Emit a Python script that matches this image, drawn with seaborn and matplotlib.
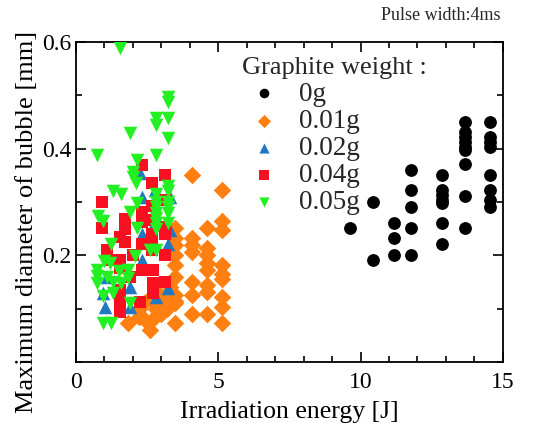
import matplotlib
matplotlib.use("Agg")
import matplotlib.pyplot as plt
import seaborn as sns
import pandas as pd
from matplotlib.ticker import MultipleLocator

# ---- data ----
labels = ["0g", "0.01g", "0.02g", "0.04g", "0.05g"]

x_0g = [9.62, 10.43, 10.43, 11.19, 11.19, 11.19,
        11.79, 11.79, 11.79, 11.79, 11.79,
        12.85, 12.85, 12.85, 12.85, 12.85, 12.85, 12.85,
        13.67, 13.67, 13.67, 13.67, 13.67, 13.67, 13.67, 13.67, 13.67,
        14.55, 14.55, 14.55, 14.55, 14.55, 14.55, 14.55, 14.55]
y_0g = [0.252, 0.301, 0.191, 0.261, 0.232, 0.201,
        0.360, 0.322, 0.290, 0.252, 0.201,
        0.351, 0.323, 0.313, 0.304, 0.298, 0.260, 0.221,
        0.451, 0.432, 0.423, 0.413, 0.404, 0.398, 0.372, 0.311, 0.252,
        0.451, 0.423, 0.413, 0.404, 0.351, 0.322, 0.304, 0.290]

x_001 = [4.07, 5.12, 5.12, 5.12, 4.59, 3.48, 3.48, 4.07, 4.07, 4.07, 4.59, 4.59,
         4.59, 4.59, 5.12, 5.12, 5.12, 3.48, 4.07, 4.59, 4.59, 5.12, 5.12, 4.07,
         4.07, 4.59, 3.48, 3.48, 5.12, 3.48, 2.60, 1.84, 3.48,
         2.20, 2.40, 2.60, 2.80, 3.00, 2.40, 2.70, 3.00, 3.20, 2.20, 2.90, 3.30,
         3.48, 3.48, 3.48]
y_001 = [0.351, 0.322, 0.264, 0.248, 0.251, 0.251, 0.232, 0.232, 0.219, 0.207, 0.214, 0.201,
         0.185, 0.173, 0.182, 0.166, 0.155, 0.182, 0.151, 0.144, 0.132, 0.122, 0.104, 0.126,
         0.091, 0.091, 0.126, 0.110, 0.073, 0.074, 0.061, 0.073, 0.115,
         0.100, 0.110, 0.120, 0.100, 0.090, 0.080, 0.080, 0.120, 0.100, 0.085, 0.130, 0.140,
         0.160, 0.200, 0.220]

x_002 = [1.02, 2.25, 3.24, 3.24, 2.83, 1.90, 2.31, 2.78, 2.31, 2.78, 3.30, 3.30,
         1.08, 1.60, 2.31, 1.90, 0.96]
y_002 = [0.104, 0.354, 0.222, 0.138, 0.122, 0.104, 0.241, 0.263, 0.310, 0.322, 0.310, 0.248,
         0.160, 0.185, 0.191, 0.141, 0.129]

x_004 = [2.31, 3.13, 2.66, 0.90, 0.90, 1.72, 1.55, 1.72, 1.72, 2.31, 2.31, 2.66,
         2.66, 3.13, 3.13, 3.13, 2.31, 2.66, 2.66, 2.66, 3.13, 1.08, 1.19, 1.55,
         1.55, 2.31, 2.72, 2.72, 2.72, 3.13, 2.25, 1.55, 1.55, 1.55, 2.00, 1.90]
y_004 = [0.370, 0.351, 0.335, 0.301, 0.251, 0.269, 0.235, 0.250, 0.225, 0.282, 0.263, 0.292,
         0.267, 0.304, 0.254, 0.241, 0.222, 0.241, 0.222, 0.210, 0.201, 0.210, 0.191, 0.191,
         0.176, 0.173, 0.173, 0.148, 0.129, 0.151, 0.113, 0.135, 0.116, 0.094, 0.200, 0.160]

x_005 = [1.55, 3.24, 3.24, 3.24, 2.83, 2.83, 1.90, 3.24, 0.73, 2.83, 2.13, 2.00,
         2.00, 2.10, 1.31, 1.60, 2.13, 1.90, 2.83, 2.83, 2.83, 2.83, 2.83, 2.83,
         2.83, 3.24, 3.24, 3.24, 3.24, 3.24, 3.24, 0.78, 0.96, 2.13, 1.25, 2.83,
         2.06, 1.00, 1.20, 0.73, 0.73, 0.73, 1.84, 1.84, 1.31, 1.31, 1.60, 0.96,
         1.90, 0.96, 1.25, 2.60, 1.10, 1.50]
y_005 = [0.589, 0.498, 0.488, 0.457, 0.457, 0.445, 0.429, 0.420, 0.388, 0.388, 0.379, 0.357,
         0.348, 0.335, 0.320, 0.316, 0.298, 0.282, 0.316, 0.300, 0.290, 0.280, 0.270, 0.260,
         0.250, 0.330, 0.320, 0.300, 0.290, 0.280, 0.260, 0.273, 0.264, 0.251, 0.222, 0.210,
         0.198, 0.190, 0.185, 0.173, 0.161, 0.148, 0.173, 0.157, 0.150, 0.129, 0.148, 0.123,
         0.110, 0.073, 0.073, 0.210, 0.160, 0.170]

# drawing order: black, orange, blue, red, green
series = [("0g", x_0g, y_0g), ("0.01g", x_001, y_001), ("0.02g", x_002, y_002),
          ("0.04g", x_004, y_004), ("0.05g", x_005, y_005)]
rows = []
for name, xs, ys in series:
    for xv, yv in zip(xs, ys):
        rows.append({"energy": xv, "diameter": yv, "weight": name})
df = pd.DataFrame(rows)

palette = {"0g": "#000000", "0.01g": "#FF8010", "0.02g": "#1F78C0",
           "0.04g": "#F81020", "0.05g": "#22F022"}
markers = {"0g": "o", "0.01g": "D", "0.02g": "^", "0.04g": "s", "0.05g": "v"}
sizes = {"0g": 85, "0.01g": 80, "0.02g": 95, "0.04g": 80, "0.05g": 95}

sns.set_style("ticks")
plt.rcParams["font.family"] = ["Liberation Serif", "DejaVu Serif"]

fig = plt.figure(figsize=(5.46, 4.30), dpi=100)
ax = fig.add_axes([0.139, 0.158, 0.782, 0.744])

for name, xs, ys in series:
    sub = df[df["weight"] == name]
    sns.scatterplot(data=sub, x="energy", y="diameter", color=palette[name],
                    marker=markers[name], s=sizes[name], linewidth=0,
                    ax=ax, label=name, zorder=3)

ax.set_xlim(0, 15)
ax.set_ylim(0, 0.6)
ax.set_xticks([0, 5, 10, 15])
ax.set_yticks([0.2, 0.4, 0.6])
ax.set_yticklabels(["0.2", "0.4", "0.6"])
ax.xaxis.set_minor_locator(MultipleLocator(1))
ax.yaxis.set_minor_locator(MultipleLocator(0.1))
ax.tick_params(which="both", direction="in", top=True, right=True, labelsize=17,
               color="black", labelcolor="black")
ax.tick_params(which="major", length=7, width=1.2)
ax.tick_params(which="minor", length=4, width=1.2)
ax.tick_params(axis="x", which="major", pad=7)
for sp in ax.spines.values():
    sp.set_linewidth(1.3)
    sp.set_color("black")
    sp.set_visible(True)

ax.set_xlabel("Irradiation energy [J]", fontsize=18.5, labelpad=6, color="black")
ax.set_ylabel("Maximum diameter of bubble [mm]", fontsize=19, color="black")
ax.yaxis.set_label_coords(-0.089, 0.4375)

leg = ax.legend(loc="upper left", bbox_to_anchor=(0.352, 1.003), frameon=False,
                title="Graphite weight :", fontsize=19.5, title_fontsize=19,
                handletextpad=0.5, labelspacing=0.08, borderpad=0.1,
                handlelength=1.6, markerscale=0.75)
leg._legend_box.align = "left"

fig.text(0.916, 0.963, "Pulse width:4ms", ha="right", va="center", fontsize=13)

fig.savefig("out.png", dpi=100)
